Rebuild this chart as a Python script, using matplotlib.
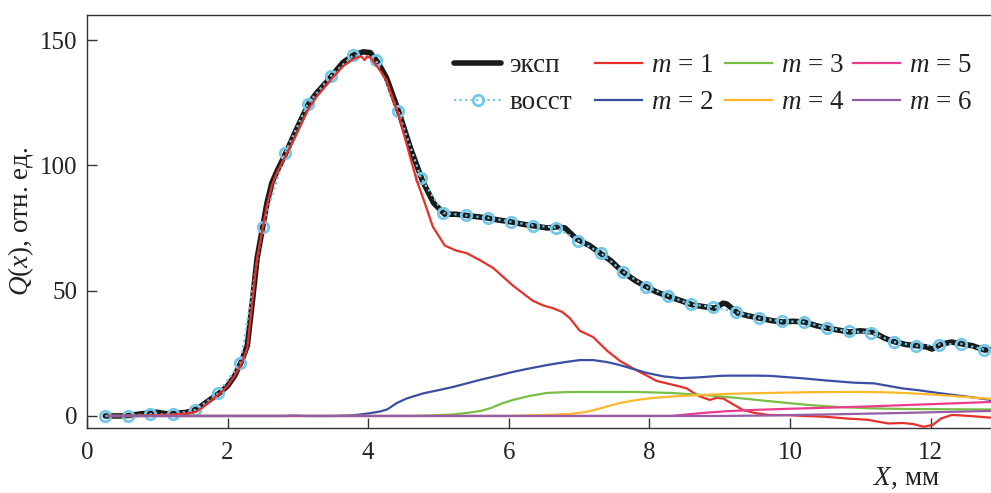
import matplotlib
matplotlib.use("Agg")
import matplotlib.pyplot as plt

plt.rcParams['font.family'] = ['Liberation Serif', 'DejaVu Serif']
plt.rcParams['mathtext.fontset'] = 'custom'
plt.rcParams['mathtext.rm'] = 'Liberation Serif'
plt.rcParams['mathtext.it'] = 'Liberation Serif:italic'

# ---- data ----
x_exp = [0.26, 0.45, 0.6, 0.75, 0.9, 1.0, 1.1, 1.2, 1.3, 1.4, 1.5, 1.6, 1.7, 1.8, 1.9, 2.0,
         2.1, 2.2, 2.28, 2.35, 2.42, 2.5, 2.56, 2.63, 2.7, 2.83, 2.99, 3.15, 3.27, 3.4, 3.48,
         3.64, 3.79, 3.93, 4.03, 4.14, 4.26, 4.35, 4.44, 4.6, 4.77, 4.93, 5.09, 5.25, 5.4,
         5.55, 5.7, 5.85, 6.02, 6.2, 6.37, 6.55, 6.69, 6.8, 6.97, 7.15, 7.3, 7.45, 7.62, 7.8,
         7.96, 8.1, 8.29, 8.45, 8.62, 8.8, 8.93, 9.05, 9.1, 9.26, 9.4, 9.57, 9.75, 9.9, 10.05,
         10.2, 10.38, 10.54, 10.7, 10.85, 11.0, 11.18, 11.35, 11.5, 11.65, 11.82, 11.95, 12.02,
         12.16, 12.3, 12.46, 12.6, 12.77, 12.86]
q_exp = [0, 0, 0.2, 0.8, 1.2, 1.5, 1.0, 0.8, 1.2, 1.4, 2.0, 3.5, 5.5, 7.5, 9.5, 12,
         16, 22, 28, 45, 63, 75.5, 85, 93, 97.5, 105, 115, 124.5, 129, 133, 135.7,
         141, 144, 145.3, 145, 141, 135, 128, 121, 107, 94, 85, 80.5, 80.5, 80,
         79.5, 79, 78.2, 77.5, 76.5, 75.8, 75, 75.5, 75, 70.5, 68, 65, 62, 57.5, 54,
         51.5, 49.5, 47.5, 46, 44.3, 43.5, 43, 45, 44.7, 41, 40, 39, 38, 37.5, 37.8,
         37.5, 36, 35, 34.2, 33.5, 34, 33.5, 31, 29.5, 28.5, 28, 27.5, 26.7,
         28.7, 29.5, 28.7, 28, 26.3, 26.5]

x_rec = [0.26, 0.58, 0.90, 1.22, 1.54, 1.86, 2.18, 2.50, 2.82, 3.14, 3.47, 3.79, 4.11, 4.43,
         4.75, 5.07, 5.39, 5.71, 6.03, 6.35, 6.67, 6.99, 7.31, 7.63, 7.95, 8.27, 8.59, 8.91,
         9.23, 9.56, 9.88, 10.20, 10.52, 10.84, 11.16, 11.48, 11.80, 12.12, 12.44, 12.76]
q_rec = [0, 0, 0.8, 0.6, 2.4, 9, 21, 75.5, 105, 124.5, 135.7, 144, 142, 121.5,
         95, 81, 80, 79, 77.5, 76, 75.2, 70, 65, 57.5, 51.5, 48, 44.5, 43.5,
         41.5, 39, 37.8, 37.5, 35.2, 33.8, 33.2, 29.5, 28, 28.5, 28.8, 26.5]

x_m1 = [0.3, 0.6, 0.9, 1.2, 1.4, 1.54, 1.65, 1.8, 1.9, 2.0, 2.1, 2.2, 2.28, 2.35, 2.42, 2.5,
        2.56, 2.63, 2.7, 2.83, 2.99, 3.15, 3.27, 3.48, 3.64, 3.79, 3.9, 3.95, 3.98, 4.03,
        4.14, 4.26, 4.44, 4.6, 4.69, 4.78, 4.92, 5.09, 5.25, 5.4, 5.6, 5.78, 5.92, 6.06,
        6.2, 6.34, 6.5, 6.63, 6.76, 6.87, 7.01, 7.2, 7.4, 7.58, 7.8, 7.97, 8.1, 8.25, 8.4,
        8.53, 8.7, 8.86, 8.95, 9.05, 9.2, 9.33, 9.5, 9.7, 10.0, 10.2, 10.5, 10.8, 11.1,
        11.4, 11.6, 11.75, 11.9, 12.03, 12.15, 12.3, 12.56, 12.86]
q_m1 = [0, 0, 0.3, 0.5, 1.0, 1.5, 3.5, 7, 9.2, 12, 16, 21, 27, 45, 63, 75,
        84, 92, 97, 104, 113, 122.5, 127.5, 134.5, 139.5, 142.5, 143.5, 142, 143.5, 143,
        139, 134, 119.5, 103, 94, 87, 75.5, 68, 66, 65, 62, 59, 55.5, 52,
        49, 46, 44, 43, 41.5, 39, 34, 31.5, 26, 22, 18.5, 16, 14, 13, 12,
        11, 8, 6.4, 7.2, 7, 4.5, 2.4, 1.2, 0.4, 0.3, 0, -0.3, -1, -1.5,
        -3, -2.8, -3.2, -4.3, -3.6, -1.0, 0.4, 0, -0.7]

x_m2 = [0.3, 3.5, 3.8, 4.0, 4.17, 4.27, 4.41, 4.55, 4.78, 5.0, 5.21, 5.4, 5.59, 5.8, 6.06,
        6.3, 6.54, 6.8, 7.01, 7.2, 7.4, 7.58, 7.8, 7.96, 8.2, 8.44, 8.7, 9.0, 9.15, 9.5,
        9.72, 10.0, 10.19, 10.5, 10.9, 11.2, 11.4, 11.6, 11.85, 12.1, 12.5, 12.86]
q_m2 = [0, 0, 0.3, 1.0, 1.8, 2.6, 5.2, 7, 9, 10.3, 11.6, 13, 14.4, 15.8, 17.6,
        19, 20.3, 21.5, 22.3, 22.3, 21.5, 20.3, 18.5, 17.2, 15.8, 15.1, 15.4, 16, 16.1, 16.1,
        16, 15.4, 15, 14.2, 13.3, 13, 12, 11, 10.2, 9.2, 7.8, 6.4]

x_m3 = [0.3, 4.6, 4.88, 5.2, 5.4, 5.6, 5.75, 5.9, 6.06, 6.3, 6.54, 6.8, 7.01, 7.34, 7.8,
        8.3, 8.8, 9.25, 9.6, 9.96, 10.3, 10.67, 11.1, 11.6, 12.2, 12.86]
q_m3 = [0, 0, 0.2, 0.6, 1.2, 2, 3.2, 5, 6.4, 8, 9.2, 9.5, 9.6, 9.6, 9.6,
        9.2, 8.3, 7.2, 6.2, 5.2, 4.3, 3.6, 3.1, 2.8, 2.7, 2.6]

x_m4 = [0.3, 6.0, 6.54, 6.87, 7.1, 7.3, 7.58, 7.8, 8.05, 8.4, 8.76, 9.2, 9.72, 10.3, 10.9,
        11.3, 11.6, 12.0, 12.4, 12.86]
q_m4 = [0, 0, 0.4, 0.8, 1.6, 3, 5.2, 6.3, 7.2, 7.9, 8.4, 8.9, 9.2, 9.5, 9.6,
        9.5, 9.2, 8.6, 7.8, 6.8]

x_m5 = [0.3, 8.3, 8.5, 8.76, 9.1, 9.47, 9.9, 10.4, 11.0, 11.6, 12.2, 12.86]
q_m5 = [0, 0, 0.5, 1.2, 1.9, 2.4, 2.8, 3.2, 3.7, 4.3, 4.9, 5.6]

x_m6 = [0.3, 2.8, 2.95, 3.1, 9.0, 9.72, 10.5, 11.6, 12.2, 12.86]
q_m6 = [0, 0, 0.2, 0, 0, 0.2, 0.6, 1.2, 1.6, 2]

components = [
    (x_m1, q_m1, '#e8302a', r'$m$ = 1'),
    (x_m2, q_m2, '#3b4ea2', r'$m$ = 2'),
    (x_m3, q_m3, '#79bf45', r'$m$ = 3'),
    (x_m4, q_m4, '#fbb82b', r'$m$ = 4'),
    (x_m5, q_m5, '#ec3c8e', r'$m$ = 5'),
    (x_m6, q_m6, '#965ca6', r'$m$ = 6'),
]

x_ticks = [0, 2, 4, 6, 8, 10, 12]
y_ticks = [0, 50, 100, 150]

# ---- figure ----
W, H = 991, 493
fig = plt.figure(figsize=(W / 100, H / 100), dpi=100)
ax = fig.add_axes([87 / W, 1 - 428 / H, 1 - 87 / W, (428 - 15) / H])

h_exp, = ax.plot(x_exp, q_exp, color='#1a1a1a', lw=4.0, solid_capstyle='round',
                 label='эксп', zorder=2)
h_rec, = ax.plot(x_rec, q_rec, color='#74c7e6', lw=1.6, ls=(0, (1, 1.5)),
                 marker='o', ms=7.5, mfc='none', mec='#74c7e6', mew=2.0,
                 label='восст', zorder=3)
comp_handles = []
for xs, qs, c, lab in components:
    h, = ax.plot(xs, qs, color=c, lw=1.6, label=lab, zorder=4)
    comp_handles.append(h)

ax.set_xlim(0, 12.86)
ax.set_ylim(-4.8, 160)
ax.set_xticks(x_ticks)
ax.set_yticks(y_ticks)
ax.tick_params(direction='in', length=7, width=1, colors='#333333', labelsize=18,
               labelcolor='#222222')
ax.tick_params(axis='x', pad=10)
ax.tick_params(axis='y', pad=7)
ax.spines['right'].set_visible(False)
for s in ['left', 'top', 'bottom']:
    ax.spines[s].set_linewidth(1.0)
    ax.spines[s].set_color('#333333')

ax.set_ylabel(r'$Q(x)$, отн. ед.', fontsize=19.5, color='#222222', labelpad=3)
fig.text(940 / W, 1 - 478 / H, r'$X$, мм', fontsize=19.5, color='#222222',
         ha='right', va='center')

# legend: 4 columns, each placed at its own position
columns = [
    [h_exp, h_rec],
    [comp_handles[0], comp_handles[1]],
    [comp_handles[2], comp_handles[3]],
    [comp_handles[4], comp_handles[5]],
]
col_x = [454, 595, 725, 853]
for hs, cx in zip(columns, col_x):
    leg = fig.legend(handles=hs, labels=[h.get_label() for h in hs], ncol=1,
                     loc='upper left', bbox_to_anchor=(cx / W, 1 - 53 / H),
                     frameon=False, fontsize=19.5, handlelength=1.75,
                     handletextpad=0.3, labelspacing=0.45, borderpad=0,
                     borderaxespad=0)
    for t in leg.get_texts():
        t.set_color('#222222')

fig.savefig('out.png', dpi=100)
